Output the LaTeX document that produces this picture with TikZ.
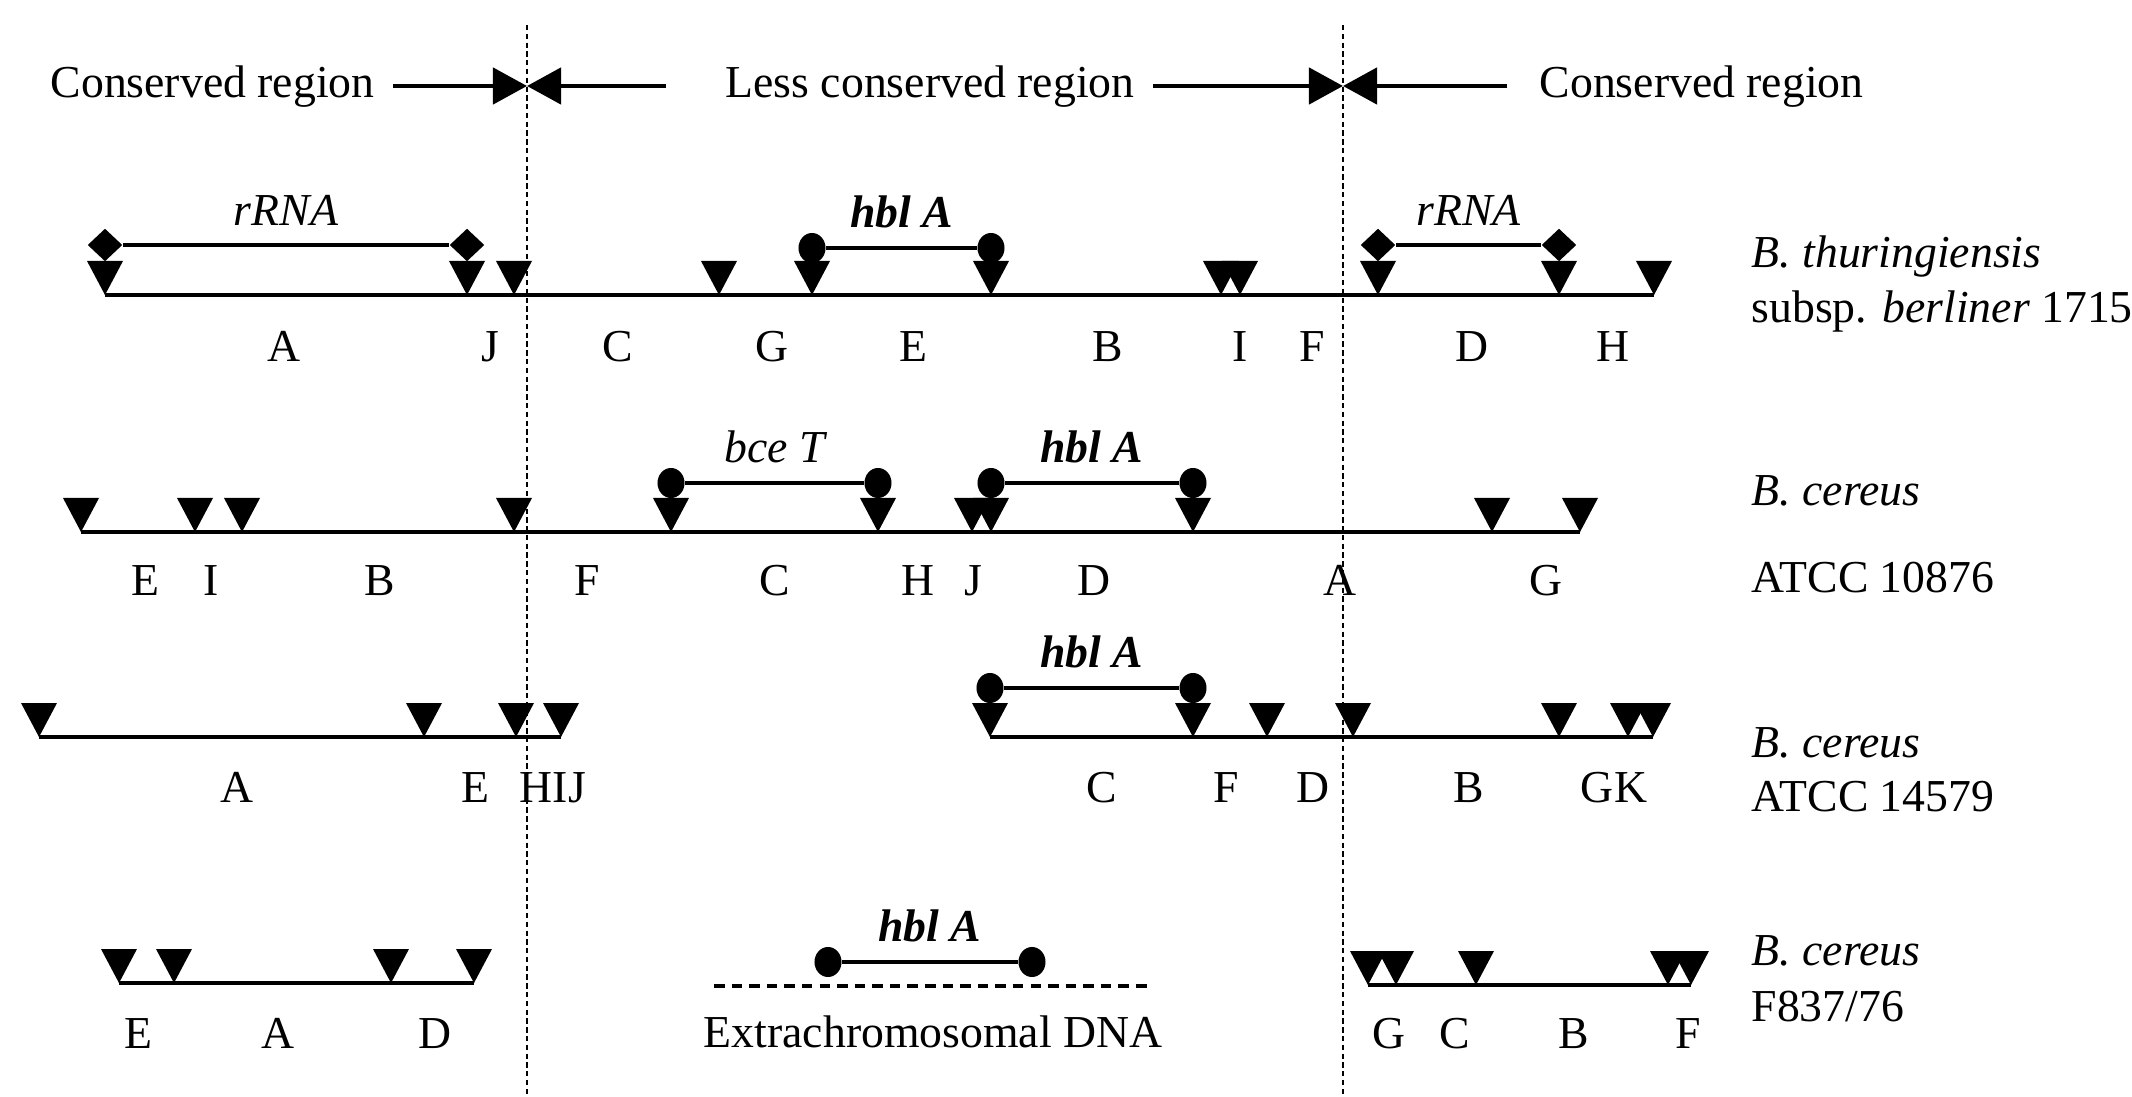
\documentclass[tikz,border=0pt]{standalone}
\usepackage{fontspec}
\setmainfont{Liberation Serif}
\usepackage{tikz}
\usetikzlibrary{shapes.geometric,arrows.meta,positioning,calc}

\begin{document}
\begin{tikzpicture}[x=0.01cm, y=-0.01cm,
  every node/.style={font=\fontsize{13}{15}\selectfont},
  chrom/.style={line width=1.3pt},
  border/.style={thin, dash pattern=on 1.5pt off 1pt},
  regarrow/.style={line width=1.3pt, -{Triangle[length=0.34cm,width=0.36cm]}},
  rnaend/.style={diamond, fill, inner sep=0pt, minimum width=0.35cm, minimum height=0.33cm},
  geneend/.style={ellipse, fill, inner sep=0pt, minimum width=0.27cm, minimum height=0.3cm},
  genebar/.style={line width=1.3pt},
  gene/.style={above=5pt, inner sep=0pt, font=\fontsize{13}{15}\selectfont\itshape},
  site/.style={anchor=base, inner sep=0pt},
  strain/.style={anchor=base west, inner sep=0pt}]
  \useasboundingbox (0,0) rectangle (2132,1097);
  % region borders
  \coordinate (topL) at (527,25); \coordinate (botL) at (527,1097);
  \coordinate (topR) at (1343,25); \coordinate (botR) at (1343,1097);
  \draw[border] (topL) -- (botL);
  \draw[border] (topR) -- (botR);
  \node[strain] (cons1) at (50,98) {Conserved region};
  \node[strain] (less) at (725,98) {Less conserved region};
  \node[strain] (cons2) at (1539,98) {Conserved region};
  \coordinate (bndL) at (527,86); \coordinate (bndR) at (1343,86);
  \coordinate (w1) at (393,86); \coordinate (w2) at (666,86);
  \coordinate (w3) at (1153,86); \coordinate (w4) at (1507,86);
  \draw[regarrow] (w1) -- (bndL);
  \draw[regarrow] (w2) -- (bndL);
  \draw[regarrow] (w3) -- (bndR);
  \draw[regarrow] (w4) -- (bndR);
  % B. thuringiensis
  \coordinate (c1a) at (105,295); \coordinate (c1b) at (1654,295);
  \draw[chrom] (c1a) -- (c1b);
  \foreach \x in {105,467,514,719,812,991,1221,1240,1378,1559,1654}
    \fill (\x,295) -- ++(-18,-34) -- ++(36,0) -- cycle;
  \node[rnaend] (r1a) at (105,245) {}; \node[rnaend] (r1b) at (467,245) {};
  \draw[genebar] (r1a) -- node[gene] {rRNA} (r1b);
  \node[rnaend] (r2a) at (1378,245) {}; \node[rnaend] (r2b) at (1559,245) {};
  \draw[genebar] (r2a) -- node[gene] {rRNA} (r2b);
  \node[geneend] (h1a) at (812,248) {}; \node[geneend] (h1b) at (991,248) {};
  \draw[genebar] (h1a) -- node[gene, font=\fontsize{13}{15}\selectfont\bfseries\itshape] {hbl A} (h1b);
  \foreach \x/\t in {284/A,490/J,618/C,772/G,913/E,1108/B,1240/I,1312/F,1472/D,1613/H}
    \node[site] (s1\t) at (\x,362) {\t};
  \node[strain] (bt1) at (1751,268) {\textit{B. thuringiensis}};
  \node[strain] (bt2) at (1751,323) {subsp. \textit{berliner} 1715};
  % B. cereus ATCC 10876
  \coordinate (c2a) at (81,532); \coordinate (c2b) at (1580,532);
  \draw[chrom] (c2a) -- (c2b);
  \foreach \x in {81,195,242,514,671,878,972,991,1193,1492,1580}
    \fill (\x,532) -- ++(-18,-34) -- ++(36,0) -- cycle;
  \node[geneend] (b2a) at (671,483) {}; \node[geneend] (b2b) at (878,483) {};
  \draw[genebar] (b2a) -- node[gene] {bce T} (b2b);
  \node[geneend] (h2a) at (991,483) {}; \node[geneend] (h2b) at (1193,483) {};
  \draw[genebar] (h2a) -- node[gene, font=\fontsize{13}{15}\selectfont\bfseries\itshape] {hbl A} (h2b);
  \foreach \x/\t in {145/E,211/I,380/B,587/F,775/C,918/H,973/J,1094/D,1340/A,1546/G}
    \node[site] (s2\t) at (\x,595) {\t};
  \node[strain] (bc1) at (1751,505) {\textit{B. cereus}};
  \node[strain] (bc1n) at (1751,593) {ATCC 10876};
  % B. cereus ATCC 14579
  \coordinate (c3a) at (39,737); \coordinate (c3b) at (561,737);
  \coordinate (c3c) at (990,737); \coordinate (c3d) at (1653,737);
  \draw[chrom] (c3a) -- (c3b);
  \draw[chrom] (c3c) -- (c3d);
  \foreach \x in {39,424,516,561,990,1193,1267,1353,1559,1628,1653}
    \fill (\x,737) -- ++(-18,-34) -- ++(36,0) -- cycle;
  \node[geneend] (h3a) at (990,688) {}; \node[geneend] (h3b) at (1193,688) {};
  \draw[genebar] (h3a) -- node[gene, font=\fontsize{13}{15}\selectfont\bfseries\itshape] {hbl A} (h3b);
  \foreach \x/\t in {237/A,475/E,553/HIJ,1102/C,1226/F,1313/D,1469/B,1614/GK}
    \node[site] (s3\t) at (\x,802) {\t};
  \node[strain] (bc2) at (1751,757) {\textit{B. cereus}};
  \node[strain] (bc2n) at (1751,811) {ATCC 14579};
  % B. cereus F837/76
  \coordinate (c4a) at (119,983); \coordinate (c4b) at (474,983);
  \coordinate (c4c) at (1368,985); \coordinate (c4d) at (1691,985);
  \draw[chrom] (c4a) -- (c4b);
  \draw[chrom] (c4c) -- (c4d);
  \foreach \x in {119,174,391,474}
    \fill (\x,983) -- ++(-18,-34) -- ++(36,0) -- cycle;
  \foreach \x in {1368,1396,1476,1668,1691}
    \fill (\x,985) -- ++(-18,-34) -- ++(36,0) -- cycle;
  \node[geneend] (h4a) at (828,962) {}; \node[geneend] (h4b) at (1032,962) {};
  \draw[genebar] (h4a) -- node[gene, font=\fontsize{13}{15}\selectfont\bfseries\itshape] {hbl A} (h4b);
  \coordinate (x4a) at (714,986); \coordinate (x4b) at (1150,986);
  \draw[line width=1.3pt, dash pattern=on 3pt off 2pt] (x4a) -- (x4b);
  \node[site] (extra) at (933,1047) {Extrachromosomal DNA};
  \foreach \x/\t in {138/E,278/A,435/D,1389/G,1455/C,1574/B,1688/F}
    \node[site] (s4\t) at (\x,1048) {\t};
  \node[strain] (bc3) at (1751,965) {\textit{B. cereus}};
  \node[strain] (bc3n) at (1751,1021) {F837/76};
\end{tikzpicture}
\end{document}
